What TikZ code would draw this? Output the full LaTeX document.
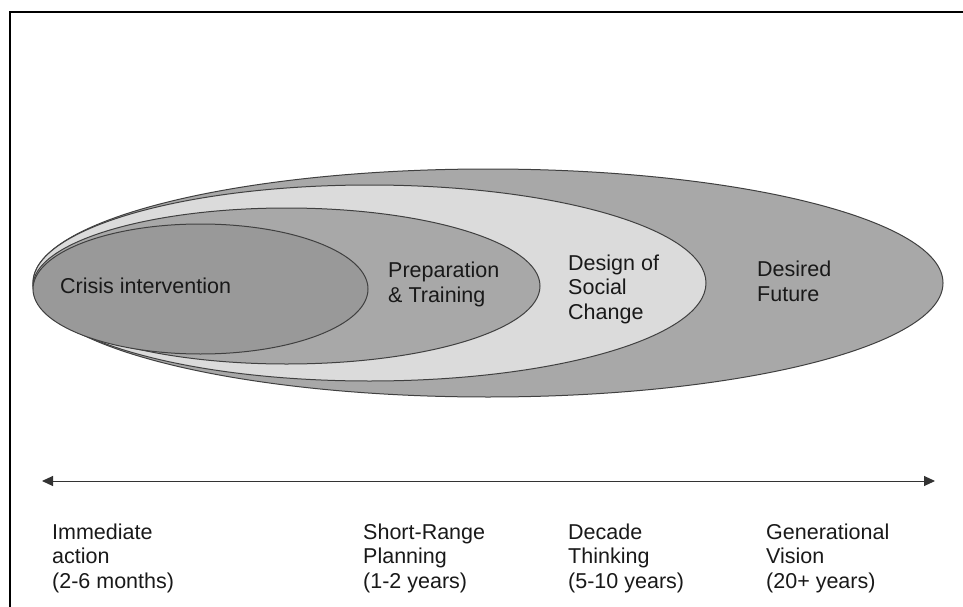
\documentclass[tikz,border=0pt]{standalone}
\usepackage{fontspec}
\setmainfont{Liberation Sans}
\usetikzlibrary{arrows.meta, positioning, shapes.geometric}

\begin{document}
\begin{tikzpicture}[
  x=1pt, y=1pt,
  horizon/.style={ellipse, draw=black!75, line width=1pt, inner sep=0pt, outer sep=0pt},
  label/.style={anchor=base west, align=left, inner sep=0pt,
    font=\fontsize{21.5}{24.5}\selectfont, text=black!90},
]
  \useasboundingbox (0,0) rectangle (963,-607);

  % Frame
  \draw[line width=2.5pt] (10,-607) -- (10,-12) -- (963,-12);

  % Nested horizons
  \node[horizon, fill=black!34, minimum width=910pt, minimum height=228pt] (future) at (488,-283) {};
  \node[horizon, fill=black!14, minimum width=673pt, minimum height=196pt] (design) at (369.5,-283) {};
  \node[horizon, fill=black!34, minimum width=507pt, minimum height=156pt] (prep) at (286.5,-286) {};
  \node[horizon, fill=black!40, minimum width=335pt, minimum height=130pt] (crisis) at (200.5,-289) {};

  % Horizon labels (base = last line)
  \node[label] (crisisT) at (60,-293) {Crisis intervention};
  \node[label] (prepT) at (388,-302) {Preparation\\\& Training};
  \node[label] (designT) at (568,-319) {Design of\\Social\\Change};
  \node[label] (futureT) at (757,-301) {Desired\\Future};

  % Time axis
  \coordinate (near) at (42,-481);
  \coordinate (far) at (935,-481);
  \draw[black!80, line width=1pt, {Triangle[length=11pt,width=10pt]}-{Triangle[length=11pt,width=10pt]}] (near) -- (far);

  % Time spans
  \node[label] (immediate) at (52,-588) {Immediate\\action\\(2-6 months)};
  \node[label] (shortrange) at (363,-588) {Short-Range\\Planning\\(1-2 years)};
  \node[label] (decade) at (568,-588) {Decade\\Thinking\\(5-10 years)};
  \node[label] (generation) at (766,-588) {Generational\\Vision\\(20+ years)};
\end{tikzpicture}
\end{document}
